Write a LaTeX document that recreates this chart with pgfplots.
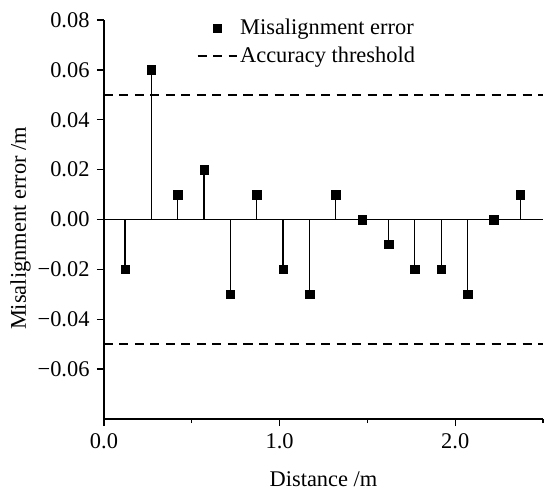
\documentclass[border=0pt]{standalone}
\usepackage{pgfplots}
\pgfplotsset{compat=1.18}
\usepackage{fontspec}
\setmainfont{Liberation Serif}
\pgfplotsset{
 marklegend/.style={legend image code/.code={\draw[##1] plot coordinates {(0.7cm,0cm)};}},
 linelegend/.style={legend image code/.code={\draw[##1] (0cm,0cm) -- (1.4cm,0cm);}},
}
\pgfplotstableread{
x y
0.12 -0.02
0.27 0.06
0.42 0.01
0.57 0.02
0.72 -0.03
0.87 0.01
1.02 -0.02
1.17 -0.03
1.32 0.01
1.47 0.00
1.62 -0.01
1.77 -0.02
1.92 -0.02
2.07 -0.03
2.22 0.00
2.37 0.01
}\errdata
\begin{document}
\fontsize{22}{26}\selectfont
\begin{tikzpicture}
\begin{axis}[
 width=439bp, height=399bp, scale only axis,
 xmin=0, xmax=2.5, ymin=-0.08, ymax=0.08,
 scaled y ticks=false, scaled x ticks=false,
 axis lines*=left,
 axis line style={line width=1.5bp, black},
 tick align=outside,
 major tick length=7bp, minor tick length=4bp,
 tick style={line width=1.4bp, black},
 xtick={0,1,2}, xticklabels={0.0,1.0,2.0},
 minor xtick={0.5,1.5,2.5},
 ytick={-0.06,-0.04,-0.02,0,0.02,0.04,0.06,0.08},
 yticklabels={−0.06,−0.04,−0.02,0.00,0.02,0.04,0.06,0.08},
 ticklabel style={font=\fontsize{22.5}{26}\selectfont},
 label style={font=\fontsize{22.5}{26}\selectfont},
 xlabel={Distance /m}, ylabel={Misalignment error /m},
 xlabel style={yshift=-8bp},
 ylabel style={yshift=-8bp, xshift=-9bp},
 legend style={draw=none, fill=none, font=\fontsize{22.5}{26}\selectfont,
   at={(axis cs:0.51,0.0822)}, anchor=north west, row sep=5bp},
 legend cell align=left,
 clip=false,
]
\addplot[black, line width=1.4bp, forget plot] coordinates {(0,0) (2.5,0)};
\addplot[ycomb, black, line width=1.3bp, mark=none, forget plot] table[x=x,y=y] {\errdata};
\addplot[only marks, mark=square*, mark size=4.25bp, black, marklegend] table[x=x,y=y] {\errdata};
\addlegendentry{Misalignment error}
\addplot[black, line width=1.7bp, dash pattern=on 9bp off 6.5bp, linelegend] coordinates {(0,0.05) (2.5,0.05)};
\addlegendentry{Accuracy threshold}
\addplot[black, line width=1.7bp, dash pattern=on 9bp off 6.5bp, forget plot] coordinates {(0,-0.05) (2.5,-0.05)};
\coordinate (bl) at (rel axis cs:-0.2369,-0.19298);
\coordinate (tr) at (rel axis cs:1.01595,1.05013);
\end{axis}
\pgfresetboundingbox
\path (bl) rectangle (tr);
\end{tikzpicture}
\end{document}
